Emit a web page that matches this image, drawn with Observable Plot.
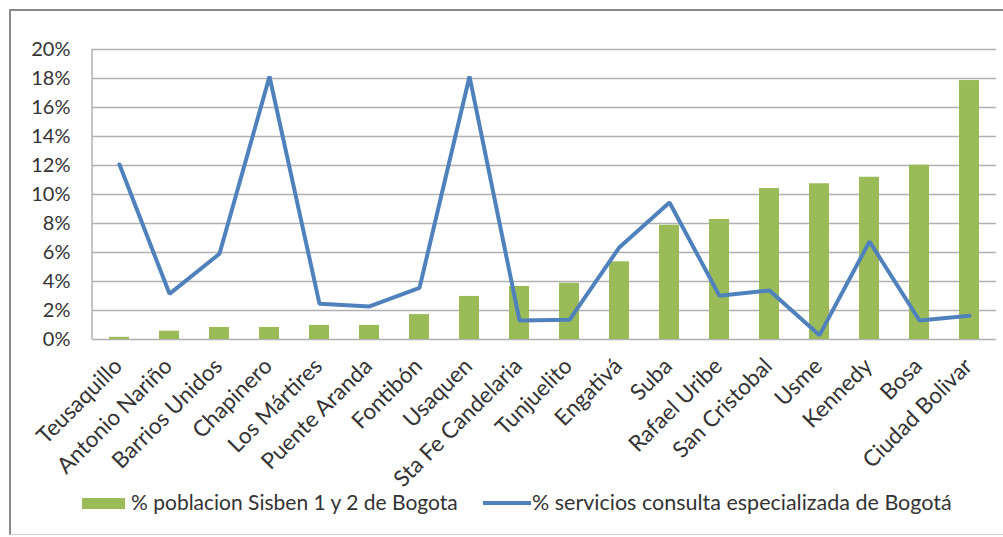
<!DOCTYPE html>
<html>
<head>
<meta charset="utf-8">
<script src="https://cdn.jsdelivr.net/npm/d3@7"></script>
<script src="https://cdn.jsdelivr.net/npm/@observablehq/plot@0.6"></script>
<style>
  html, body { margin: 0; padding: 0; background: #fff; }
  body { width: 1003px; height: 537px; position: relative; overflow: hidden; font-family: Lato, "Open Sans", sans-serif; }
  #frame { position: absolute; left: 9px; top: 9px; width: 1000px; height: 526px; border-left: 2px solid #8a8a8a; border-top: 2px solid #8a8a8a; border-bottom: 1px solid #d0d0d0; box-sizing: border-box; }
  #chart { position: absolute; left: 0; top: 0; }
  #legend { position: absolute; left: 0; top: 490px; width: 1003px; font-size: 21px; color: #333; }
  .sw { position: absolute; }
  .lt { position: absolute; white-space: nowrap; line-height: 24px; }
</style>
</head>
<body>
<div id="frame"></div>
<div id="chart"></div>
<div id="legend">
  <div class="sw" style="left:82px; top:8px; width:43px; height:11px; background:#9BBB59;"></div>
  <div class="lt" style="left:131px; top:0px;">% poblacion Sisben 1 y 2 de Bogota</div>
  <div class="sw" style="left:483px; top:11px; width:48px; height:4px; background:#4F81BD;"></div>
  <div class="lt" style="left:532px; top:0px; font-size:21.5px;">% servicios consulta especializada de Bogotá</div>
</div>
<script>
const categories = ["Teusaquillo", "Antonio Nariño", "Barrios Unidos", "Chapinero", "Los Mártires", "Puente Aranda", "Fontibón", "Usaquen", "Sta Fe Candelaria", "Tunjuelito", "Engativá", "Suba", "Rafael Uribe", "San Cristobal", "Usme", "Kennedy", "Bosa", "Ciudad Bolivar"];
const poblacion = [0.0015, 0.0057, 0.0083, 0.0083, 0.0097, 0.0097, 0.0172, 0.0297, 0.0366, 0.0388, 0.0536, 0.0788, 0.0828, 0.1041, 0.1074, 0.1119, 0.1202, 0.1786];
const servicios = [0.1207, 0.0315, 0.0591, 0.1814, 0.0246, 0.0228, 0.0356, 0.1814, 0.0131, 0.0136, 0.0637, 0.0945, 0.0301, 0.0338, 0.0030, 0.0676, 0.0131, 0.0163];
const yTicks = [0, 0.02, 0.04, 0.06, 0.08, 0.10, 0.12, 0.14, 0.16, 0.18, 0.20];

const data = categories.map((c, i) => ({cat: c, pob: poblacion[i], serv: servicios[i]}));

const leftLine = (index, scales, values, dim) => {
  const g = document.createElementNS("http://www.w3.org/2000/svg", "line");
  g.setAttribute("x1", dim.marginLeft);
  g.setAttribute("x2", dim.marginLeft);
  g.setAttribute("y1", scales.y(0.20));
  g.setAttribute("y2", scales.y(0));
  g.setAttribute("stroke", "#b0b0b0");
  g.setAttribute("stroke-width", 1.5);
  return g;
};

const chart = Plot.plot({
  width: 1003,
  height: 490,
  marginLeft: 92,
  marginRight: 7,
  marginTop: 49,
  marginBottom: 151,
  style: {fontFamily: "Lato, 'Open Sans', sans-serif", fontSize: "20px", color: "#333", background: "transparent", overflow: "visible"},
  x: {domain: categories, paddingInner: 0.6, paddingOuter: 0.3, label: null},
  y: {domain: [0, 0.20], label: null},
  marks: [
    Plot.gridY(yTicks, {stroke: "#b0b0b0", strokeOpacity: 1, strokeWidth: 1.5}),
    leftLine,
    Plot.barY(data, {x: "cat", y: "pob", fill: "#9BBB59"}),
    Plot.lineY(data, {x: "cat", y: "serv", stroke: "#4F81BD", strokeWidth: 4, strokeLinejoin: "miter"}),
    Plot.axisY(yTicks, {tickSize: 0, tickPadding: 22, tickFormat: d => Math.round(d * 100) + "%", label: null, fill: "#333"}),
    Plot.axisX({tickSize: 0, tickRotate: -45, tickPadding: 14, dx: -1, dy: 9, label: null, fill: "#333", fontSize: 22.5})
  ]
});
document.getElementById("chart").appendChild(chart);
</script>
</body>
</html>
